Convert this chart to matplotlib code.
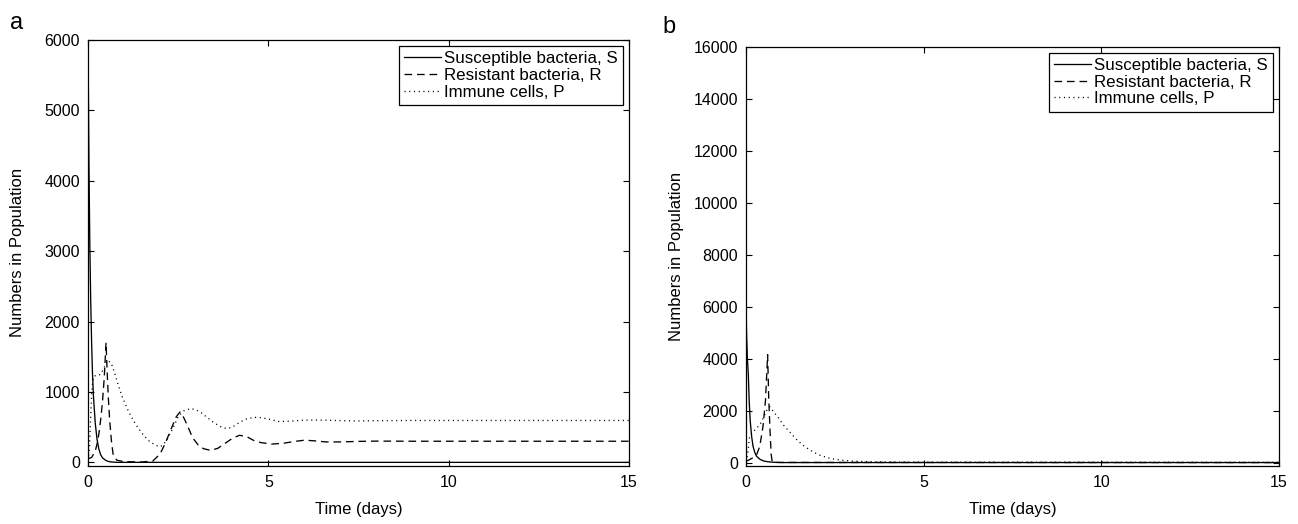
import matplotlib
matplotlib.use("Agg")
import matplotlib.pyplot as plt

plt.rcParams['font.family'] = ['Liberation Sans', 'DejaVu Sans']
plt.rcParams['lines.scale_dashes'] = False

# ---------------- Panel a data ----------------
t_S_a = [0, 0.025, 0.05, 0.075, 0.1, 0.125, 0.15, 0.2, 0.25, 0.3, 0.35, 0.4, 0.5, 0.6, 0.8, 15]
S_a = [6000, 4300, 3100, 2300, 1700, 1250, 950, 560, 330, 190, 110, 65, 25, 8, 0, 0]

t_R_a = [0, 0.1, 0.2, 0.25, 0.3, 0.35, 0.4, 0.45, 0.5, 0.53, 0.56, 0.6, 0.65, 0.7, 0.8, 1.0, 1.5,
         1.8, 2.0, 2.15, 2.3, 2.45, 2.55, 2.65, 2.75, 2.9, 3.05, 3.2, 3.4, 3.6, 3.8, 4.0, 4.2,
         4.4, 4.6, 4.8, 5.1, 5.4, 5.7, 6.0, 6.3, 6.6, 7.0, 7.5, 8.0, 9.0, 15]
R_a = [50, 70, 160, 260, 400, 600, 850, 1200, 1700, 1300, 950, 600, 300, 100, 30, 10, 5,
       20, 120, 280, 470, 650, 715, 640, 530, 350, 250, 195, 170, 200, 270, 340, 385,
       365, 310, 280, 260, 270, 295, 315, 305, 290, 290, 298, 302, 300, 300]

t_P_a = [0, 0.04, 0.07, 0.1, 0.13, 0.18, 0.25, 0.35, 0.45, 0.55, 0.65, 0.75, 0.85, 0.95, 1.1,
         1.25, 1.4, 1.55, 1.7, 1.85, 2.0, 2.1, 2.2, 2.35, 2.5, 2.65, 2.85, 3.0, 3.15, 3.3, 3.5,
         3.7, 3.85, 4.0, 4.15, 4.35, 4.6, 4.8, 5.0, 5.3, 5.6, 6.0, 6.5, 7.0, 7.5, 8.0, 9.0, 15]
P_a = [30, 200, 600, 950, 1150, 1230, 1230, 1250, 1350, 1450, 1400, 1250, 1080, 930, 750,
       600, 480, 380, 300, 250, 220, 260, 330, 480, 650, 730, 765, 745, 700, 640, 560,
       500, 480, 500, 550, 610, 640, 635, 615, 580, 585, 600, 600, 593, 588, 592, 595, 595]

# ---------------- Panel b data ----------------
t_S_b = [0, 0.02, 0.04, 0.066, 0.09, 0.12, 0.16, 0.2, 0.25, 0.3, 0.4, 0.5, 0.62, 0.8, 1.0, 15]
S_b = [6000, 4800, 4000, 3400, 2400, 1600, 1000, 620, 380, 240, 120, 60, 30, 10, 0, 0]

t_R_b = [0, 0.1, 0.2, 0.3, 0.39, 0.48, 0.55, 0.61, 0.64, 0.68, 0.71, 0.74, 0.8, 15]
R_b = [50, 110, 190, 300, 630, 1400, 2400, 4150, 2500, 1150, 300, 30, 5, 0]

t_P_b = [0, 0.04, 0.07, 0.1, 0.15, 0.25, 0.39, 0.5, 0.6, 0.67, 0.75, 0.9, 1.05, 1.25, 1.45,
         1.65, 1.9, 2.1, 2.4, 2.7, 3.0, 3.5, 4.0, 5.0, 15]
P_b = [30, 250, 600, 1000, 1100, 1250, 1450, 1750, 2050, 2150, 2000, 1750, 1450, 1150, 850,
       620, 400, 270, 150, 90, 55, 30, 20, 15, 10]

labels = ['Susceptible bacteria, S', 'Resistant bacteria, R', 'Immune cells, P']
xticks = [0, 5, 10, 15]
yticks_a = [0, 1000, 2000, 3000, 4000, 5000, 6000]
yticks_b = [0, 2000, 4000, 6000, 8000, 10000, 12000, 14000, 16000]

FS = 11.5
FS_LAB = 12
FS_LEG = 12.2
DASH = (0, (5.5, 3.5))
DOT = (0, (0.8, 2.6))
LW = 0.95

fig = plt.figure(figsize=(12.98, 5.24), dpi=100)
ax_a = fig.add_axes([0.0678, 0.1116, 0.4168, 0.812])
ax_b = fig.add_axes([0.5747, 0.1113, 0.4106, 0.7996])

panels = [
    (ax_a, (t_S_a, S_a), (t_R_a, R_a), (t_P_a, P_a), yticks_a, (-45, 6000)),
    (ax_b, (t_S_b, S_b), (t_R_b, R_b), (t_P_b, P_b), yticks_b, (-120, 16000)),
]

for ax, s, r, p, yt, yl in panels:
    ax.plot(s[0], s[1], color='black', lw=LW, linestyle='-', label=labels[0])
    ax.plot(r[0], r[1], color='black', lw=LW, linestyle=DASH, label=labels[1])
    ax.plot(p[0], p[1], color='black', lw=LW, linestyle=DOT, label=labels[2])
    ax.set_xlim(0, 15)
    ax.set_ylim(*yl)
    ax.set_xticks(xticks)
    ax.set_yticks(yt)
    ax.tick_params(axis='both', direction='in', top=True, right=True, length=4,
                   width=0.8, labelsize=FS, colors='black')
    ax.tick_params(axis='x', pad=7)
    ax.tick_params(axis='y', pad=5.8)
    for sp in ax.spines.values():
        sp.set_linewidth(0.9)
        sp.set_color('black')
    ax.set_xlabel('Time (days)', fontsize=FS_LAB)
    ax.set_ylabel('Numbers in Population', fontsize=FS_LAB)
    ax.xaxis.set_label_coords(0.5, -0.086)
    ax.yaxis.set_label_coords(-0.117, 0.5)
    leg = ax.legend(loc='upper right', fontsize=FS_LEG, frameon=True, fancybox=False,
                    edgecolor='black', framealpha=1, borderaxespad=0.37,
                    handlelength=2.2, handletextpad=0.15, borderpad=0.3,
                    labelspacing=0.1)
    leg.get_frame().set_linewidth(0.9)

fig.text(0.008, 0.945, 'a', fontsize=17)
fig.text(0.510, 0.937, 'b', fontsize=17)

fig.savefig('out.png', dpi=100)
